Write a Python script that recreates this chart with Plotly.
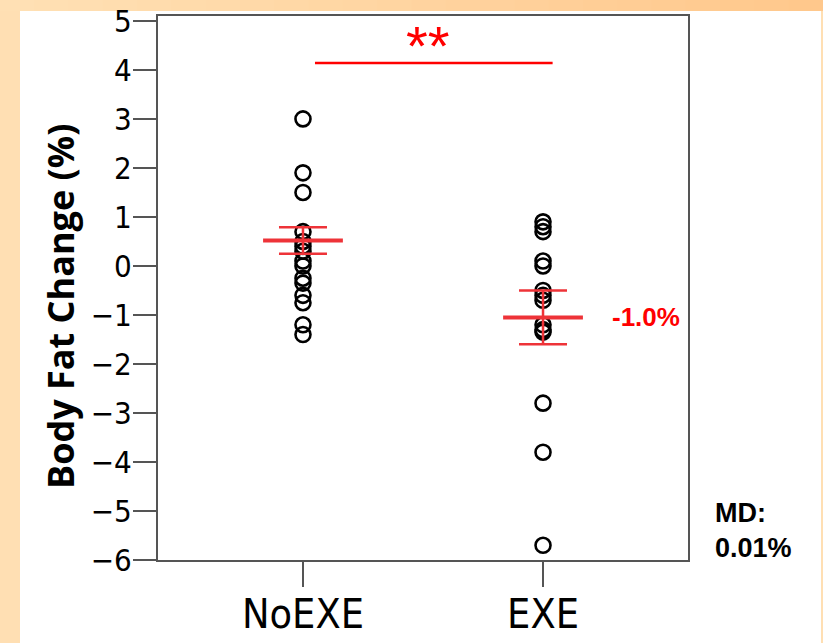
import plotly.graph_objects as go

# ---- data ----
categories = ["NoEXE", "EXE"]
noexe_values = [3.0, 1.9, 1.5, 0.7, 0.5, 0.4, 0.3, 0.1, 0.0, -0.25, -0.35, -0.6, -0.75, -1.2, -1.4]
exe_values = [0.9, 0.8, 0.7, 0.1, 0.0, -0.5, -0.6, -0.7, -1.2, -1.3, -1.35, -2.8, -3.8, -5.7]
group_means = [0.52, -1.05]
group_errors = [0.27, 0.55]
y_ticks = [5, 4, 3, 2, 1, 0, -1, -2, -3, -4, -5, -6]
sig_line_x = [0.05, 1.04]
sig_line_y = 4.14
exe_label = "-1.0%"
md_label = "MD:<br>0.01%"

# plot-area geometry in pixels
W, H = 823, 643
L, R, T, B = 158, 688, 16, 560

def px_x(p):
    return (p - L) / (R - L)

def px_y(p):
    return (B - p) / (B - T)

RED = "#EE3338"
AX = "#555555"
TICKFONT = "DejaVu Sans Condensed, Liberation Sans Narrow, DejaVu Sans, sans-serif"

fig = go.Figure()

fig.add_trace(go.Scatter(
    x=[0] * len(noexe_values), y=noexe_values, mode="markers",
    marker=dict(symbol="circle-open", size=15, color="black", line=dict(width=2.6, color="black")),
    showlegend=False, hoverinfo="y"))
fig.add_trace(go.Scatter(
    x=[1] * len(exe_values), y=exe_values, mode="markers",
    marker=dict(symbol="circle-open", size=15, color="black", line=dict(width=2.6, color="black")),
    showlegend=False, hoverinfo="y"))

# mean + error bars
fig.add_trace(go.Scatter(
    x=[0, 1], y=group_means, mode="markers",
    marker=dict(symbol="line-ew", size=57, color=RED, line=dict(width=4, color=RED)),
    error_y=dict(type="data", array=group_errors, visible=True, color=RED, thickness=2.5, width=24),
    showlegend=False, hoverinfo="y"))

# significance line
fig.add_shape(type="line", xref="x", yref="y", x0=sig_line_x[0], x1=sig_line_x[1],
              y0=sig_line_y, y1=sig_line_y, line=dict(color="#FF0000", width=2.5))

# ---- background decoration ----
shapes = []
shapes.append(dict(type="rect", xref="paper", yref="paper", layer="below",
                   x0=px_x(20), x1=px_x(821), y0=px_y(643), y1=px_y(11),
                   fillcolor="white", line=dict(width=0)))
n = 24
c0 = (255, 224, 180)
c1 = (255, 200, 140)
for i in range(n):
    t = i / (n - 1)
    col = "rgb(%d,%d,%d)" % tuple(round(c0[k] + (c1[k] - c0[k]) * t) for k in range(3))
    shapes.append(dict(type="rect", xref="paper", yref="paper", layer="below",
                       x0=px_x(W * i / n), x1=px_x(W * (i + 1) / n + 1),
                       y0=px_y(11), y1=px_y(0), fillcolor=col, line=dict(width=0)))
for s in shapes:
    fig.add_shape(**s)

annotations = [
    dict(text="**", xref="x", yref="y", x=0.52, y=4.5, showarrow=False,
         font=dict(family="Arial, Liberation Sans", size=56, color="#FF0000")),
    dict(text="<b>%s</b>" % exe_label, xref="x", yref="y", x=1.43, y=group_means[1],
         showarrow=False, font=dict(family="Arial, Liberation Sans", size=26, color="#FF0000")),
    dict(text="<b>%s</b>" % md_label, xref="paper", yref="paper", x=px_x(713), y=px_y(530),
         xanchor="left", yanchor="middle", align="left", showarrow=False,
         font=dict(family="Arial, Liberation Sans", size=27, color="black")),
    dict(text="<b>Body Fat Change (%)</b>", xref="paper", yref="paper", x=px_x(60), y=px_y(307),
         textangle=-90, showarrow=False, xanchor="center", yanchor="middle",
         font=dict(family="Open Sans, Noto Sans, sans-serif", size=36, color="black")),
]

fig.update_layout(
    width=W, height=H,
    margin=dict(l=L, r=W - R, t=T, b=H - B, autoexpand=False),
    paper_bgcolor="#FFDFB3",
    plot_bgcolor="white",
    annotations=annotations,
    xaxis=dict(range=[-0.604, 1.604], tickvals=[0, 1], ticktext=categories,
               showline=True, linecolor=AX, linewidth=2, mirror=True,
               ticks="outside", ticklen=25, tickwidth=1.5, tickcolor=AX,
               ticklabelstandoff=-8,
               showgrid=False, zeroline=False,
               tickfont=dict(family=TICKFONT, size=41, color="black")),
    yaxis=dict(range=[-6, 5.1], tickvals=y_ticks,
               showline=True, linecolor=AX, linewidth=2, mirror=True,
               ticks="outside", ticklen=23, tickwidth=1.5, tickcolor=AX,
               ticklabelstandoff=-5,
               showgrid=False, zeroline=False,
               tickfont=dict(family=TICKFONT, size=31, color="black")),
)

fig.write_html("out.html")
